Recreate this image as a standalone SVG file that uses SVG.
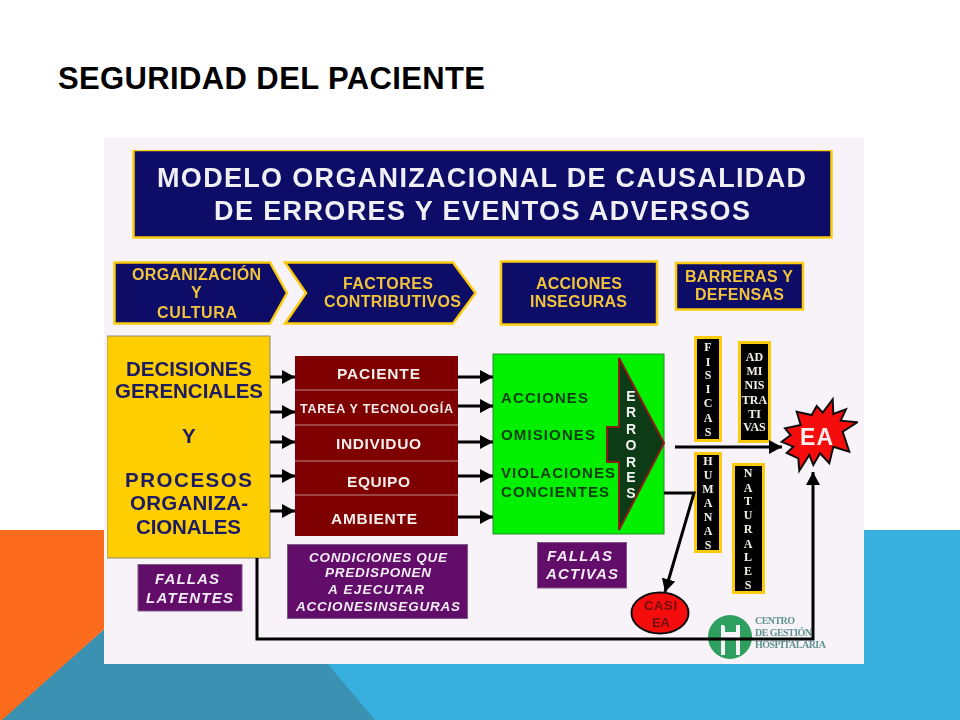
<svg xmlns="http://www.w3.org/2000/svg" width="960" height="720" viewBox="0 0 960 720">
<style>
text{font-family:"Liberation Sans",Arial,sans-serif;font-weight:700}
.hb{fill:#0a0a68;stroke:#fccb0d;stroke-width:2.500}
.ht{fill:#f2c43c;font-size:16px}
.ty{fill:#1e1a62;font-size:20.500px}
.tr{fill:#f5ecec;font-size:15.500px}
.tg{fill:#0c3d10;font-size:15px}
.pb{fill:#620a6a;stroke:#7d5a86;stroke-width:1}
.tp{fill:#f3ecf5;font-size:15px;font-style:italic}
.bb{fill:#050505;stroke:#fccb0d;stroke-width:3}
.tb{fill:#f4f0e8;font-family:"Liberation Serif",serif;font-size:12px;text-anchor:middle}
.te{fill:#f2f2f2;font-size:14px;text-anchor:middle}
.sep{stroke:#c08a8a;stroke-width:1}
.c{fill:none;stroke:#000;stroke-width:3;stroke-linejoin:miter}
.tl{fill:#5f9290;font-family:"Liberation Serif",serif;font-size:10px}
</style>
<defs>
<marker id="ah" markerUnits="userSpaceOnUse" markerWidth="14" markerHeight="14" refX="13" refY="7" orient="auto"><path d="M0 0L13 7L0 14Z" fill="#000"/></marker>
<filter id="soft" x="0" y="0" width="100%" height="100%"><feGaussianBlur stdDeviation="0.450"/></filter>
</defs>
<rect width="960" height="720" fill="#fff"/>
<g id="background">
<path d="M200 600H860V530H960V720H200Z" fill="#38b0df"/>
<path d="M0 720L110 624V600H274L375 720Z" fill="#3a91b2"/>
<path d="M0 530H110V624L2 720H0Z" fill="#fd6b1d"/>
</g>
<text id="slide-title" x="58" y="89" font-size="31" fill="#000" textLength="427" lengthAdjust="spacing">SEGURIDAD DEL PACIENTE</text>
<rect id="picture" x="104" y="138" width="760" height="526" fill="#f8f3f9"/>
<g id="diagram" filter="url(#soft)">
<g id="title-box">
<rect class="hb" x="133.500" y="150" width="698" height="87.500"/>
<text x="157" y="187" font-size="27" fill="#f0f0f4" textLength="649" lengthAdjust="spacing">MODELO ORGANIZACIONAL DE CAUSALIDAD</text>
<text x="214" y="220" font-size="27" fill="#f0f0f4" textLength="536" lengthAdjust="spacing">DE ERRORES Y EVENTOS ADVERSOS</text>
</g>
<g id="organizacion">
<path class="hb" d="M114.500 262.500H270L287 293L270 323.500H114.500Z"/>
<text class="ht" x="132" y="280" textLength="129" lengthAdjust="spacing">ORGANIZACIÓN</text>
<text class="ht" x="191" y="298">Y</text>
<text class="ht" x="157" y="318" textLength="80" lengthAdjust="spacing">CULTURA</text>
</g>
<g id="factores">
<path class="hb" d="M285 262.500H453L475.500 293L453 323.500H285L306 293Z"/>
<text class="ht" x="343" y="289" textLength="90" lengthAdjust="spacing">FACTORES</text>
<text class="ht" x="324" y="307" textLength="137" lengthAdjust="spacing">CONTRIBUTIVOS</text>
</g>
<g id="acciones-inseguras">
<rect class="hb" x="501" y="261.500" width="156" height="63"/>
<text class="ht" x="536" y="289" textLength="86" lengthAdjust="spacing">ACCIONES</text>
<text class="ht" x="530" y="307" textLength="97" lengthAdjust="spacing">INSEGURAS</text>
</g>
<g id="barreras">
<rect class="hb" x="676" y="263" width="127" height="46.500"/>
<text class="ht" x="685" y="282" textLength="108" lengthAdjust="spacing">BARRERAS Y</text>
<text class="ht" x="695" y="300" textLength="89" lengthAdjust="spacing">DEFENSAS</text>
</g>
<g id="decisiones">
<rect x="107" y="336" width="163" height="222" fill="#fece02" stroke="#8f8a70" stroke-width="1"/>
<text class="ty" x="126" y="376" textLength="126" lengthAdjust="spacing">DECISIONES</text>
<text class="ty" x="115" y="398" textLength="148" lengthAdjust="spacing">GERENCIALES</text>
<text class="ty" x="182" y="443">Y</text>
<text class="ty" x="125" y="487" textLength="127" lengthAdjust="spacing">PROCESOS</text>
<text class="ty" x="130" y="510" textLength="118" lengthAdjust="spacing">ORGANIZA-</text>
<text class="ty" x="136" y="534" textLength="105" lengthAdjust="spacing">CIONALES</text>
</g>
<g id="factores-lista">
<rect x="295" y="356" width="163" height="180" fill="#7e0000"/>
<path class="sep" d="M295 390H458M295 425H458M295 461H458M295 495H458"/>
<text class="tr" x="337" y="379" textLength="83" lengthAdjust="spacing">PACIENTE</text>
<text class="tr" x="300" y="413" style="font-size:12.500px" textLength="153" lengthAdjust="spacing">TAREA Y TECNOLOGÍA</text>
<text class="tr" x="336" y="449" textLength="85" lengthAdjust="spacing">INDIVIDUO</text>
<text class="tr" x="347" y="487" textLength="63" lengthAdjust="spacing">EQUIPO</text>
<text class="tr" x="331" y="524" textLength="86" lengthAdjust="spacing">AMBIENTE</text>
</g>
<g id="acciones">
<rect x="493" y="354" width="171" height="180" fill="#00f000" stroke="#2c8a2c" stroke-width="1"/>
<text class="tg" x="501" y="403" textLength="87" lengthAdjust="spacing">ACCIONES</text>
<text class="tg" x="501" y="440" textLength="94" lengthAdjust="spacing">OMISIONES</text>
<text class="tg" x="501" y="478" textLength="114" lengthAdjust="spacing">VIOLACIONES</text>
<text class="tg" x="501" y="497" textLength="108" lengthAdjust="spacing">CONCIENTES</text>
</g>
<g id="errores">
<path d="M619 358L664 443L619 530V462H607V427H619Z" fill="#0a3a14" stroke="#8a1c14" stroke-width="2"/>
<text class="te" x="631" y="401">E</text>
<text class="te" x="631" y="417">R</text>
<text class="te" x="631" y="434">R</text>
<text class="te" x="631" y="450">O</text>
<text class="te" x="631" y="467">R</text>
<text class="te" x="631" y="482">E</text>
<text class="te" x="631" y="498">S</text>
</g>
<g id="fisicas">
<rect class="bb" x="695.500" y="337.500" width="25" height="103"/>
<text class="tb" x="708" y="351">F</text>
<text class="tb" x="708" y="366">I</text>
<text class="tb" x="708" y="379">S</text>
<text class="tb" x="708" y="393">I</text>
<text class="tb" x="708" y="407">C</text>
<text class="tb" x="708" y="422">A</text>
<text class="tb" x="708" y="436">S</text>
</g>
<g id="administrativas">
<rect class="bb" x="739.500" y="342.500" width="30" height="99"/>
<text class="tb" x="754.500" y="361">AD</text>
<text class="tb" x="754.500" y="375">MI</text>
<text class="tb" x="754.500" y="389">NIS</text>
<text class="tb" x="754.500" y="404">TRA</text>
<text class="tb" x="754.500" y="418">TI</text>
<text class="tb" x="754.500" y="431">VAS</text>
</g>
<g id="humanas">
<rect class="bb" x="695.500" y="453.500" width="25" height="98"/>
<text class="tb" x="708" y="465">H</text>
<text class="tb" x="708" y="479">U</text>
<text class="tb" x="708" y="493">M</text>
<text class="tb" x="708" y="507">A</text>
<text class="tb" x="708" y="521">N</text>
<text class="tb" x="708" y="535">A</text>
<text class="tb" x="708" y="549">S</text>
</g>
<g id="naturales">
<rect class="bb" x="733.500" y="464.500" width="30" height="128"/>
<text class="tb" x="748" y="477">N</text>
<text class="tb" x="748" y="492">A</text>
<text class="tb" x="748" y="505">T</text>
<text class="tb" x="748" y="519">U</text>
<text class="tb" x="748" y="533">R</text>
<text class="tb" x="748" y="548">A</text>
<text class="tb" x="748" y="561">L</text>
<text class="tb" x="748" y="575">E</text>
<text class="tb" x="748" y="589">S</text>
</g>
<g id="ea">
<path d="M796.700 411.700L811.700 415L816.700 406L822.700 412.700L832.700 399.300L833.300 414L846 409.300L840.700 420.700L857.300 422.300L842.700 431.700L849.300 451.700L833.300 446.700L829.300 463.300L820 453.300L813.300 465L809.300 455L799.300 470.700L798.300 458.300L786.700 453L793.300 446.700L781.700 441.700L790.700 435L785 428.300L800.700 425Z" fill="#f50a0a" stroke="#111" stroke-width="2"/>
<text x="800" y="445" font-size="23" fill="#f7eeee" textLength="33" lengthAdjust="spacing">EA</text>
</g>
<g id="fallas-latentes">
<rect class="pb" x="138" y="564.500" width="104" height="46.500"/>
<text class="tp" x="155" y="584" textLength="64" lengthAdjust="spacing">FALLAS</text>
<text class="tp" x="146" y="603" textLength="87" lengthAdjust="spacing">LATENTES</text>
</g>
<g id="condiciones">
<rect class="pb" x="287.500" y="544.500" width="180" height="74"/>
<text class="tp" x="309" y="562" style="font-size:13.500px" textLength="138" lengthAdjust="spacing">CONDICIONES QUE</text>
<text class="tp" x="325" y="577" style="font-size:13.500px" textLength="106" lengthAdjust="spacing">PREDISPONEN</text>
<text class="tp" x="328" y="594" style="font-size:13.500px" textLength="96" lengthAdjust="spacing">A  EJECUTAR</text>
<text class="tp" x="296" y="611" style="font-size:13.500px" textLength="164" lengthAdjust="spacing">ACCIONESINSEGURAS</text>
</g>
<g id="fallas-activas">
<rect class="pb" x="537.500" y="542.500" width="89" height="45.500"/>
<text class="tp" x="547" y="561" textLength="65" lengthAdjust="spacing">FALLAS</text>
<text class="tp" x="546" y="579" textLength="72" lengthAdjust="spacing">ACTIVAS</text>
</g>
<g id="casi-ea">
<ellipse cx="660" cy="613" rx="28.500" ry="20.500" fill="#f50a0a" stroke="#111" stroke-width="2"/>
<text x="644" y="610" font-size="13" fill="#6e0808" textLength="33" lengthAdjust="spacing">CASI</text>
<text x="652" y="627" font-size="13" fill="#6e0808" textLength="18" lengthAdjust="spacing">EA</text>
</g>
<g id="logo">
<circle cx="730" cy="637" r="22" fill="#2e9f5f"/>
<path d="M721 625H725V655H721ZM736 625H740V655H736ZM723 632H738V640H723Z" fill="#f8f3f9"/>
<circle cx="730" cy="623" r="6.500" fill="#2e9f5f"/>
<text class="tl" x="755" y="624" textLength="40" lengthAdjust="spacing">CENTRO</text>
<text class="tl" x="755" y="636" textLength="57" lengthAdjust="spacing">DE GESTIÓN</text>
<text class="tl" x="755" y="648" textLength="71" lengthAdjust="spacing">HOSPITALARIA</text>
</g>
<g id="connectors">
<path class="c" marker-end="url(#ah)" d="M270 377H295"/>
<path class="c" marker-end="url(#ah)" d="M270 412H295"/>
<path class="c" marker-end="url(#ah)" d="M270 442H295"/>
<path class="c" marker-end="url(#ah)" d="M270 476H295"/>
<path class="c" marker-end="url(#ah)" d="M270 511H295"/>
<path class="c" marker-end="url(#ah)" d="M458 377H493"/>
<path class="c" marker-end="url(#ah)" d="M458 406H493"/>
<path class="c" marker-end="url(#ah)" d="M458 442H493"/>
<path class="c" marker-end="url(#ah)" d="M458 476H493"/>
<path class="c" marker-end="url(#ah)" d="M458 517H493"/>
<path class="c" marker-end="url(#ah)" d="M675 447H782"/>
<path class="c" marker-end="url(#ah)" d="M664 493H694L665 592"/>
<path class="c" marker-end="url(#ah)" d="M257 558V639H813V472"/>
</g>
</g>
</svg>
